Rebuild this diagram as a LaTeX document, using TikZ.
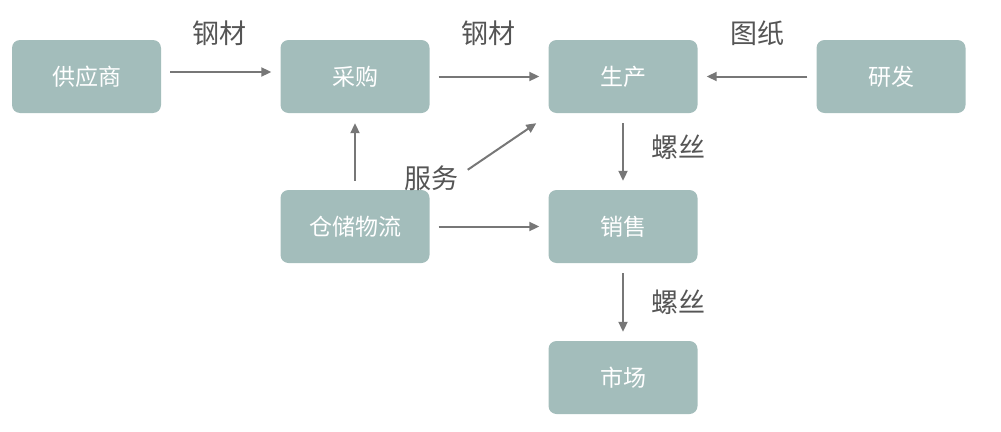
\documentclass[tikz,border=0pt]{standalone}
\usepackage{fontspec}
\setmainfont{Noto Sans CJK SC}
\usetikzlibrary{arrows.meta}
\definecolor{boxc}{HTML}{A3BDBB}
\definecolor{arrc}{HTML}{777777}
\definecolor{labc}{HTML}{555555}
\tikzset{
  box/.style={fill=boxc, draw=none, rounded corners=8pt, minimum width=149pt, minimum height=73pt, inner sep=0pt, text=white, font=\fontsize{23}{23}\selectfont},
  lab/.style={text=labc, font=\fontsize{27}{27}\selectfont, inner sep=0pt},
  arr/.style={draw=arrc, line width=2pt, -{Triangle[length=10pt,width=9pt]}},
}
\begin{document}
\begin{tikzpicture}[x=1pt,y=-1pt]
\useasboundingbox (0,0) rectangle (1001,431);
\node[box] (gys) at (86.5,76.5) {供应商};
\node[box] (cg) at (355,76.5) {采购};
\node[box] (sc) at (623,76.5) {生产};
\node[box] (yf) at (891,76.5) {研发};
\node[box] (cc) at (355,226.5) {仓储物流};
\node[box] (xs) at (623,226.5) {销售};
\node[box] (shc) at (623,377.5) {市场};

\draw[arr] ([xshift=9pt,yshift=4.5pt]gys.east) -- ([xshift=-9pt,yshift=4.5pt]cg.west);
\draw[arr] ([xshift=9pt]cg.east) -- ([xshift=-9pt]sc.west);
\draw[arr] ([xshift=-9pt]yf.west) -- ([xshift=9pt]sc.east);
\draw[arr] ([yshift=-10pt]sc.south) -- ([yshift=9pt]xs.north);
\draw[arr] ([yshift=-10pt]xs.south) -- ([yshift=9pt]shc.north);
\draw[arr] ([yshift=9pt]cc.north) -- ([yshift=-10pt]cg.south);
\draw[arr] ([xshift=9pt]cc.east) -- ([xshift=-9pt]xs.west);
\draw[arr] ([xshift=38pt,yshift=20pt]cc.north east) -- ([xshift=-12pt,yshift=-10pt]sc.south west);

\node[lab] (l1) at (219,33) {钢材};
\node[lab] (l2) at (488,33) {钢材};
\node[lab] (l3) at (757,33) {图纸};
\node[lab] (l4) at (678,147) {螺丝};
\node[lab] (l5) at (678,302) {螺丝};
\node[lab] (l6) at (431,178) {服务};
\end{tikzpicture}
\end{document}
